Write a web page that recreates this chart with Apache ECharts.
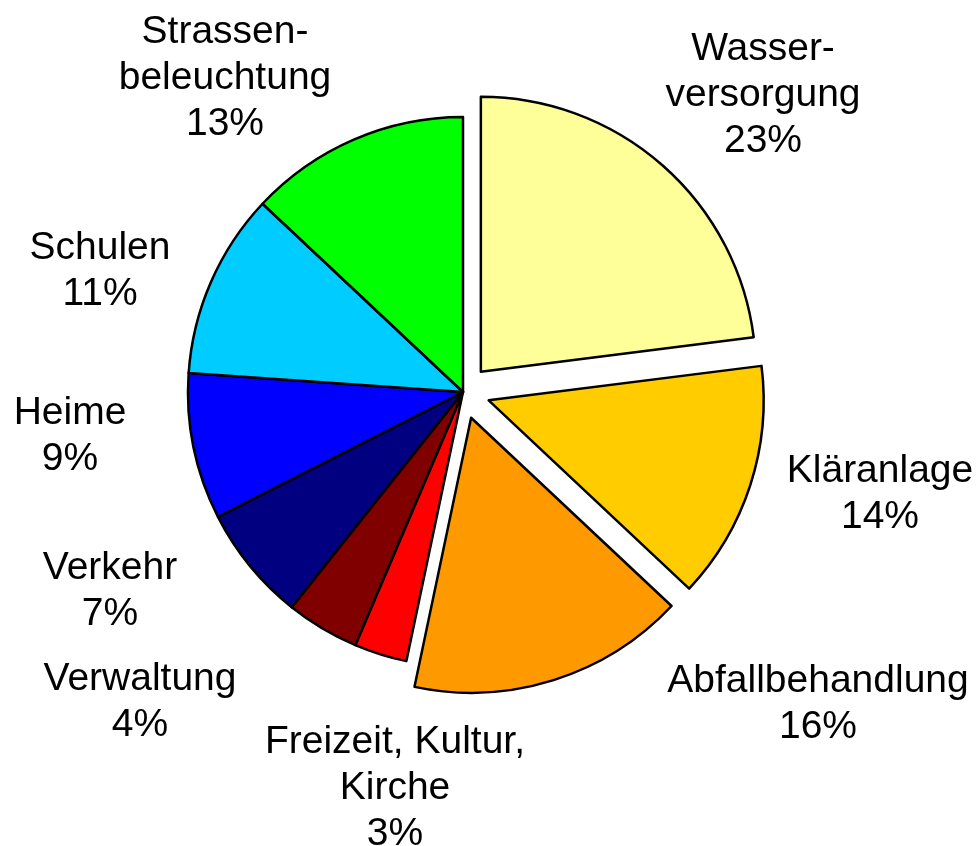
<!DOCTYPE html>
<html>
<head>
<meta charset="utf-8">
<script src="https://cdn.jsdelivr.net/npm/echarts@6/dist/echarts.min.js"></script>
<style>
  html, body { margin: 0; padding: 0; background: #fff; }
  #chart { width: 979px; height: 846px; }
</style>
</head>
<body>
<div id="chart"></div>
<script>
// Anteile in Prozent, im Uhrzeigersinn ab 12 Uhr
let categories = ['Wasserversorgung', 'Kläranlage', 'Abfallbehandlung', 'Freizeit, Kultur, Kirche',
    'Verwaltung', 'Verkehr', 'Heime', 'Schulen', 'Strassenbeleuchtung'];
let labelTexts = ['Wasser-\nversorgung', 'Kläranlage', 'Abfallbehandlung', 'Freizeit, Kultur,\nKirche',
    'Verwaltung', 'Verkehr', 'Heime', 'Schulen', 'Strassen-\nbeleuchtung'];
let values = [23.0, 14.0, 16.3, 3.1, 4.3, 6.8, 8.6, 10.9, 13.0];
let exploded = [true, true, true, false, false, false, false, false, false];

let colors = ['#ffff99', '#ffcc00', '#ff9900', '#ff0000', '#800000', '#000080', '#0000ff', '#00ccff', '#00ff00'];
// Mittelpunkt der Beschriftungen (Pixel)
let labelPos = [[763, 95], [880, 494], [818, 704], [395, 788], [140, 702],
    [110, 591], [70, 436], [100, 271], [225, 78]];

function setChart(){
    let myChart = echarts.init(document.getElementById('chart'));

    let pieData = [];
    let labelData = [];
    for(let i = 0;i<values.length;i++){
        pieData.push({
            name: categories[i],
            value: values[i],
            selected: exploded[i],
            itemStyle: { color: colors[i] }
        });
        labelData.push({
            name: categories[i],
            value: values[i]
        });
    }

    let option = {
        animation: false,
        series: [{
            // Tortenstücke, drei davon herausgezogen
            type: 'pie',
            center: [463, 392],
            radius: 275,
            startAngle: 90,
            clockwise: true,
            selectedMode: 'multiple',
            selectedOffset: 27,
            silent: true,
            itemStyle: {
                borderColor: '#000',
                borderWidth: 2.5
            },
            select: { itemStyle: { borderColor: '#000', borderWidth: 2.5 } },
            label: { show: false },
            labelLine: { show: false },
            data: pieData
        }, {
            // nur Beschriftungen (unsichtbare Stücke)
            type: 'pie',
            center: [463, 392],
            radius: 275,
            startAngle: 90,
            clockwise: true,
            silent: true,
            itemStyle: {
                color: 'rgba(0,0,0,0)',
                borderWidth: 0
            },
            label: {
                show: true,
                position: 'outside',
                fontFamily: 'Liberation Sans, Arial, sans-serif',
                fontSize: 39,
                lineHeight: 46,
                color: '#000',
                formatter: function(p){
                    return labelTexts[p.dataIndex] + '\n' + Math.round(p.percent) + '%';
                }
            },
            labelLine: { show: false },
            labelLayout: function(p){
                let pos = labelPos[p.dataIndex];
                return {
                    x: pos[0],
                    y: pos[1],
                    align: 'center',
                    verticalAlign: 'middle'
                };
            },
            data: labelData
        }]
    };

    myChart.setOption(option);
}

window.onload = function(){
    setChart();
}
</script>
</body>
</html>
